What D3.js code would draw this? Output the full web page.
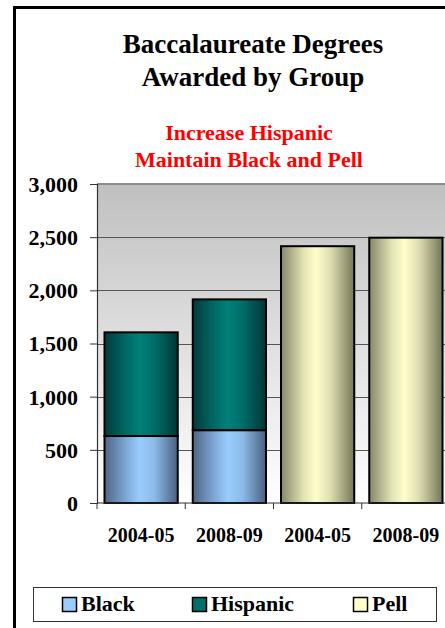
<!DOCTYPE html>
<html>
<head>
<meta charset="utf-8">
<script src="https://cdn.jsdelivr.net/npm/d3@7"></script>
<style>
  html, body { margin: 0; padding: 0; background: #fff; }
  svg { display: block; }
  text { font-family: "Palatino Linotype", "Book Antiqua", Palatino, "Liberation Serif", serif; font-weight: bold; }
</style>
</head>
<body>
<svg id="chart" width="445" height="628"></svg>
<script>
// Chart data
const periods = ["2004-05", "2008-09", "2004-05", "2008-09"];
const blackValues = [630, 685];        // stacked bottom, first two periods
const hispanicValues = [975, 1230];    // stacked on top of Black
const pellValues = [2415, 2495];       // last two periods
const yTicks = [0, 500, 1000, 1500, 2000, 2500, 3000];
const seriesNames = ["Black", "Hispanic", "Pell"];
const titleLines = ["Baccalaureate Degrees", "Awarded by Group"];
const subtitleLines = ["Increase Hispanic", "Maintain Black and Pell"];

const svg = d3.select("#chart");
const defs = svg.append("defs");

// Horizontal shading that gives each bar a rounded, lit look
const palettes = {
  Black:    ["#4f6688", "#7fa8d6", "#99ccff", "#8cbbea", "#4a5f7e"],
  Hispanic: ["#003b3b", "#006a66", "#008078", "#006d69", "#003535"],
  Pell:     ["#86866a", "#e0e0b4", "#ffffcc", "#dcdcb0", "#76765a"]
};
Object.entries(palettes).forEach(([name, cols]) => {
  const g = defs.append("linearGradient").attr("id", "grad-" + name)
    .attr("x1", 0).attr("x2", 1).attr("y1", 0).attr("y2", 0);
  [0, 0.3, 0.48, 0.68, 1].forEach((o, i) =>
    g.append("stop").attr("offset", o).attr("stop-color", cols[i]));
});
const plotBg = defs.append("linearGradient").attr("id", "plot-bg")
  .attr("x1", 0).attr("x2", 0).attr("y1", 0).attr("y2", 1);
plotBg.append("stop").attr("offset", 0).attr("stop-color", "#c0c0c0");
plotBg.append("stop").attr("offset", 1).attr("stop-color", "#ffffff");

// Outer frame
svg.append("rect")
  .attr("x", 14.5).attr("y", 7.5).attr("width", 460).attr("height", 640)
  .attr("fill", "#fff").attr("stroke", "#000").attr("stroke-width", 3);

// Plot geometry
const plot = { left: 97, right: 450, top: 184, bottom: 503 };

const x = d3.scaleBand()
  .domain(d3.range(periods.length))
  .range([plot.left, plot.right])
  .paddingInner(0.17)
  .paddingOuter(0.085);

const y = d3.scaleLinear()
  .domain([0, 3000])
  .range([plot.bottom, plot.top]);

// Plot area background
svg.append("rect")
  .attr("x", plot.left).attr("y", plot.top)
  .attr("width", plot.right - plot.left).attr("height", plot.bottom - plot.top)
  .attr("fill", "url(#plot-bg)");

// Gridlines
svg.append("g").selectAll("line")
  .data(yTicks.filter(t => t > 0 && t < 3000))
  .join("line")
  .attr("x1", plot.left).attr("x2", plot.right)
  .attr("y1", d => Math.round(y(d)) + 0.5).attr("y2", d => Math.round(y(d)) + 0.5)
  .attr("stroke", "#555").attr("stroke-width", 1);

// Top edge of plot area
svg.append("line")
  .attr("x1", plot.left).attr("x2", plot.right)
  .attr("y1", plot.top).attr("y2", plot.top)
  .attr("stroke", "#8c8c8c").attr("stroke-width", 2);

// Bars
const stacked = [];
blackValues.forEach((v, i) => {
  stacked.push({ i, series: "Black", y0: 0, y1: v });
  stacked.push({ i, series: "Hispanic", y0: v, y1: v + hispanicValues[i] });
});
pellValues.forEach((v, k) => {
  stacked.push({ i: k + blackValues.length, series: "Pell", y0: 0, y1: v });
});

svg.append("g").selectAll("rect")
  .data(stacked)
  .join("rect")
  .attr("x", d => x(d.i))
  .attr("width", x.bandwidth())
  .attr("y", d => y(d.y1))
  .attr("height", d => y(d.y0) - y(d.y1))
  .attr("fill", d => "url(#grad-" + d.series + ")")
  .attr("stroke", "#000")
  .attr("stroke-width", 2);

// Y axis
const yAxis = svg.append("g")
  .attr("transform", `translate(${plot.left},0)`)
  .call(d3.axisLeft(y).tickValues(yTicks).tickFormat(d3.format(",")).tickSize(7).tickPadding(12));
yAxis.select(".domain").attr("stroke", "#333").attr("stroke-width", 1.2);
yAxis.selectAll(".tick line").attr("stroke", "#333");
yAxis.selectAll(".tick text")
  .attr("fill", "#000").style("font-size", "22px")
  .attr("dy", "0.34em");

// X axis with ticks between categories
const xAxisG = svg.append("g");
xAxisG.append("line")
  .attr("x1", plot.left).attr("x2", plot.right)
  .attr("y1", plot.bottom).attr("y2", plot.bottom)
  .attr("stroke", "#333").attr("stroke-width", 1.2);
const step = x.step();
xAxisG.selectAll(".sep")
  .data(d3.range(periods.length + 1))
  .join("line").attr("class", "sep")
  .attr("x1", d => plot.left + d * step).attr("x2", d => plot.left + d * step)
  .attr("y1", plot.bottom).attr("y2", plot.bottom + 6)
  .attr("stroke", "#333");
xAxisG.selectAll("text")
  .data(periods)
  .join("text")
  .attr("x", (d, i) => x(i) + x.bandwidth() / 2)
  .attr("y", 542)
  .attr("text-anchor", "middle")
  .style("font-size", "20px")
  .text(d => d);

// Titles
svg.append("g").selectAll("text")
  .data(titleLines)
  .join("text")
  .attr("x", 253).attr("y", (d, i) => 53 + i * 33)
  .attr("text-anchor", "middle")
  .style("font-size", "27px").attr("fill", "#000")
  .text(d => d);

svg.append("g").selectAll("text")
  .data(subtitleLines)
  .join("text")
  .attr("x", 249).attr("y", (d, i) => 140 + i * 27)
  .attr("text-anchor", "middle")
  .style("font-size", "22px").attr("fill", "#ff0000")
  .text(d => d);

// Legend
const legend = svg.append("g");
legend.append("rect")
  .attr("x", 33.5).attr("y", 587.5).attr("width", 403).attr("height", 34)
  .attr("fill", "#fff").attr("stroke", "#333").attr("stroke-width", 1);
const legendSwatch = { Black: "#99ccff", Hispanic: "#006e6a", Pell: "#ffffcc" };
const legendX = [62, 192, 353];
const items = legend.selectAll(".item")
  .data(seriesNames)
  .join("g").attr("class", "item")
  .attr("transform", (d, i) => `translate(${legendX[i]},0)`);
items.append("rect")
  .attr("x", 0.5).attr("y", 597.5).attr("width", 14).attr("height", 14)
  .attr("fill", d => legendSwatch[d]).attr("stroke", "#000").attr("stroke-width", 1.5);
items.append("text")
  .attr("x", 19).attr("y", 611)
  .style("font-size", "22px")
  .text(d => d);
</script>
</body>
</html>
